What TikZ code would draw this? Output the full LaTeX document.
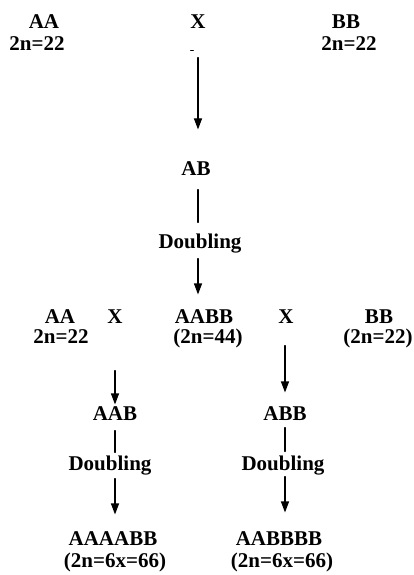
\documentclass[tikz,border=0pt]{standalone}
\usepackage{fontspec}
\setmainfont{Liberation Serif}
\usetikzlibrary{arrows.meta}
\tikzset{
  lbl/.style={inner sep=0pt, anchor=base, text height=14pt, text depth=4pt, font=\fontsize{21}{22}\selectfont\bfseries},
}
\begin{document}
\begin{tikzpicture}[x=1pt, y=-1pt, line width=1.1pt, line join=round, line cap=round, >={Triangle[length=11pt,width=8pt]}]
				\def\W{414} \def\H{575}
				\useasboundingbox (0,0) rectangle (\W,\H);
				%\draw[color=gray!50,dashed,step=50] (0,0) grid (\W,\H);
				% parents
				\node[lbl] (aa1) at (44,29) {AA};
				\node[lbl] (aa1n) at (37,51) {2n=22};
				\node[lbl] (x1) at (198,29) {X};
				\node[lbl] (bb1) at (346,29) {BB};
				\node[lbl] (bb1n) at (349,51) {2n=22};
				\draw[line width=.8pt] (190.5,50) -- (193.5,50);
				% hybrid
				\node[lbl] (ab) at (196,175) {AB};
				\node[lbl] (dbl1) at (200,248) {Doubling};
				% second crosses
				\node[lbl] (aa2) at (60,323) {AA};
				\node[lbl] (aa2n) at (61,343) {2n=22};
				\node[lbl] (xl) at (115,323) {X};
				\node[lbl] (aabb) at (204,323) {AABB};
				\node[lbl] (aabbn) at (208,343) {(2n=44)};
				\node[lbl] (xr) at (286,323) {X};
				\node[lbl] (bb2) at (379,323) {BB};
				\node[lbl] (bb2n) at (378,343) {(2n=22)};
				% triploids
				\node[lbl] (aab) at (115,420) {AAB};
				\node[lbl] (abb) at (285,420) {ABB};
				\node[lbl] (dbl2) at (110,470) {Doubling};
				\node[lbl] (dbl3) at (283,470) {Doubling};
				% hexaploids
				\node[lbl] (l6) at (113,545) {AAAABB};
				\node[lbl] (l6n) at (115,567) {(2n=6x=66)};
				\node[lbl] (r6) at (279,545) {AABBBB};
				\node[lbl] (r6n) at (282,567) {(2n=6x=66)};
				% connectors
				\draw[->, shorten <=24pt, shorten >=31pt] (x1.south) -- (x1.south |- ab.north);
				\draw[shorten <=10pt, shorten >=11pt] (x1.south |- ab.south) -- (x1.south |- dbl1.north);
				\draw[->, shorten <=6pt, shorten >=14pt] (x1.south |- dbl1.south) -- (x1.south |- aabb.north);
				\draw[->, shorten <=43pt, shorten >=1pt] (xl.south) -- (aab.north);
				\draw[->, shorten <=18pt, shorten >=13pt] (abb.north |- xr.south) -- (abb.north);
				\draw[shorten <=6pt, shorten >=3pt] (aab.south) -- (aab.south |- dbl2.north);
				\draw[->, shorten <=4pt, shorten >=16pt] (aab.south |- dbl2.south) -- (aab.south |- l6.north);
				\draw[shorten <=3pt, shorten >=4pt] (abb.south) -- (abb.south |- dbl3.north);
				\draw[->, shorten <=2pt, shorten >=18pt] (abb.south |- dbl3.south) -- (abb.south |- r6.north);
			\end{tikzpicture}
\end{document}
